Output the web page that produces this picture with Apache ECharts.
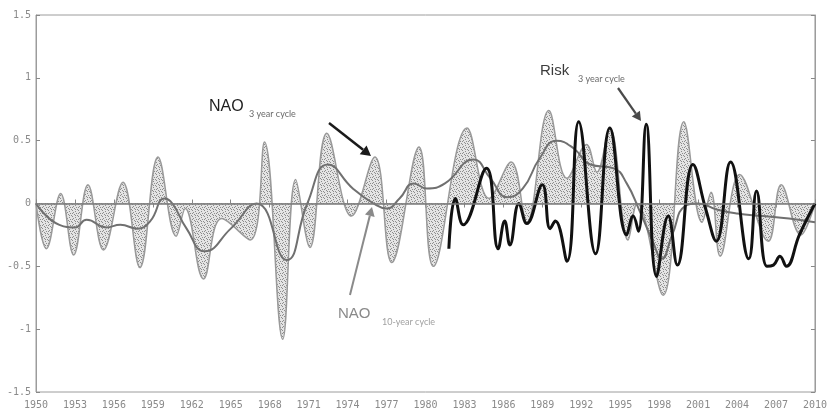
<!DOCTYPE html>
<html><head><meta charset="utf-8">
<script src="https://cdn.jsdelivr.net/npm/echarts@6/dist/echarts.min.js"></script>
<style>html,body{margin:0;padding:0;background:#fff}#c{width:830px;height:416px}</style>
</head><body><div id="c"></div>
<script>
// Years on the x axis (ticks every 3 years)
const xMin = 1950, xMax = 2010, xStep = 3;
const yMin = -1.5, yMax = 1.5, yStep = 0.5;

// NAO 3-year cycle [year, value]
const nao3 = [
  [1950.0, 0.00], [1950.8, -0.36], [1951.9, 0.08], [1952.9, -0.41], [1954.0, 0.15],
  [1955.2, -0.37], [1956.7, 0.17], [1958.0, -0.51], [1959.4, 0.37], [1960.8, -0.26],
  [1961.5, -0.04], [1962.9, -0.60], [1964.3, -0.12], [1966.5, -0.29], [1967.6, 0.49],
  [1969.0, -1.08], [1970.0, 0.19], [1971.1, -0.35], [1972.4, 0.56], [1974.3, -0.10],
  [1976.1, 0.37], [1977.4, -0.47], [1979.5, 0.45], [1980.6, -0.50], [1983.2, 0.60],
  [1984.9, 0.04], [1986.6, 0.33], [1987.8, -0.15], [1989.5, 0.74], [1990.9, 0.20],
  [1992.4, 0.47], [1993.2, 0.25], [1994.2, 0.60], [1995.6, -0.29], [1996.3, 0.00],
  [1998.3, -0.73], [1999.9, 0.65], [2001.3, -0.15], [2002.0, 0.09], [2002.7, -0.42],
  [2004.2, 0.23], [2006.4, -0.30], [2007.4, 0.15], [2008.9, -0.25], [2010.0, 0.00]
];

// NAO 10-year cycle [year, value]
const nao10 = [
  [1950.0, 0.00], [1951.8, -0.17], [1953.0, -0.19], [1953.9, -0.13], [1955.4, -0.19],
  [1956.5, -0.17], [1957.8, -0.20], [1958.8, -0.14], [1959.9, 0.04], [1960.5, 0.00],
  [1961.6, -0.20], [1963.0, -0.38], [1965.0, -0.20], [1967.0, 0.00], [1969.3, -0.45],
  [1970.9, 0.00], [1972.5, 0.31], [1974.4, 0.12], [1976.0, 0.00], [1977.0, -0.04],
  [1978.0, 0.04], [1979.1, 0.16], [1980.1, 0.12], [1981.5, 0.16], [1983.7, 0.35],
  [1985.0, 0.20], [1986.3, 0.05], [1987.5, 0.12], [1988.8, 0.36], [1990.1, 0.50],
  [1991.4, 0.44], [1992.7, 0.31], [1994.5, 0.28], [1995.5, 0.16], [1996.5, -0.06],
  [1997.5, -0.30], [1998.2, -0.44], [1999.0, -0.25], [2000.0, -0.02], [2001.0, 0.00],
  [2002.5, -0.05], [2004.0, -0.08], [2006.0, -0.10], [2008.0, -0.12], [2010.0, -0.15]
];

// Risk 3-year cycle [year, value]
const risk3 = [
  [1981.8, -0.36], [1982.3, 0.04], [1982.9, -0.17], [1984.7, 0.28], [1985.6, -0.36],
  [1986.1, -0.14], [1986.5, -0.33], [1987.2, 0.00], [1987.8, -0.16], [1989.0, 0.15],
  [1989.6, -0.20], [1990.0, -0.14], [1990.9, -0.46], [1991.8, 0.65], [1993.1, -0.40],
  [1994.2, 0.60], [1995.5, -0.25], [1996.0, -0.10], [1996.4, -0.22], [1997.0, 0.63],
  [1997.8, -0.58], [1998.7, -0.10], [1999.4, -0.49], [2000.6, 0.31], [2001.6, -0.05],
  [2002.4, -0.30], [2003.5, 0.33], [2004.9, -0.44], [2005.5, 0.10], [2006.3, -0.50],
  [2006.8, -0.49], [2007.3, -0.42], [2007.8, -0.50], [2008.8, -0.25], [2010.0, 0.00]
];

// stipple texture for the NAO 3-year fill
function stipple() {
  const c = document.createElement('canvas');
  c.width = 6; c.height = 6;
  const g = c.getContext('2d');
  g.fillStyle = '#e4e4e4'; g.fillRect(0, 0, 6, 6);
  g.fillStyle = '#8c8c8c';
  [[0,0],[3,1],[1,2],[4,3],[2,4],[5,5],[0,3],[3,5]].forEach(p => g.fillRect(p[0], p[1], 1, 1));
  return c;
}

const chart = echarts.init(document.getElementById('c'), null, {renderer: 'canvas'});

function arrow(x1, y1, x2, y2, color, w, head) {
  const a = Math.atan2(y2 - y1, x2 - x1);
  const hl = head, hw = head * 0.55;
  const bx = x2 - hl * Math.cos(a), by = y2 - hl * Math.sin(a);
  const px = -Math.sin(a) * hw, py = Math.cos(a) * hw;
  return [
    {type: 'line', shape: {x1: x1, y1: y1, x2: bx, y2: by}, style: {stroke: color, lineWidth: w}, z: 100},
    {type: 'polygon', shape: {points: [[x2, y2], [bx + px, by + py], [bx - px, by - py]]}, style: {fill: color}, z: 100}
  ];
}

const axisFont = {color: '#8a8a8a', fontSize: 10, fontFamily: 'DejaVu Sans Mono'};
const frameColor = '#9c9c9c';

const option = {
  animation: false,
  backgroundColor: '#fff',
  grid: {left: 36, right: 15, top: 15, bottom: 24, show: true, borderColor: frameColor, borderWidth: 1},
  xAxis: [{
    type: 'value', min: xMin, max: xMax, interval: xStep,
    axisLine: {show: true, lineStyle: {color: frameColor}},
    axisTick: {show: true, inside: true, length: 4, lineStyle: {color: '#888'}},
    axisLabel: Object.assign({margin: 8, formatter: v => String(v)}, axisFont),
    splitLine: {show: false}
  }, {
    type: 'value', min: xMin, max: xMax, interval: xStep, position: 'top',
    axisLine: {show: true, lineStyle: {color: frameColor}},
    axisTick: {show: true, inside: true, length: 4, lineStyle: {color: '#888'}},
    axisLabel: {show: false}, splitLine: {show: false}
  }],
  yAxis: [{
    type: 'value', min: yMin, max: yMax, interval: yStep,
    axisLine: {show: true, lineStyle: {color: frameColor}},
    axisTick: {show: true, inside: true, length: 4, lineStyle: {color: '#888'}},
    axisLabel: Object.assign({margin: 5, formatter: v => String(v)}, axisFont),
    splitLine: {show: false}
  }, {
    type: 'value', min: yMin, max: yMax, interval: yStep, position: 'right',
    axisLine: {show: true, lineStyle: {color: frameColor}},
    axisTick: {show: true, inside: true, length: 4, lineStyle: {color: '#888'}},
    axisLabel: {show: false}, splitLine: {show: false}
  }],
  series: [{
    name: 'NAO 3 year cycle', type: 'line', data: nao3, smooth: 0.4, symbol: 'none',
    lineStyle: {color: '#9a9a9a', width: 1.5},
    areaStyle: {color: {image: stipple(), repeat: 'repeat'}, origin: 0, opacity: 1},
    markLine: {silent: true, symbol: 'none', label: {show: false},
      lineStyle: {color: '#7a7a7a', width: 1.5, type: 'solid'}, data: [{yAxis: 0}]},
    z: 2
  }, {
    name: 'NAO 10 year cycle', type: 'line', data: nao10, smooth: 0.5, symbol: 'none',
    lineStyle: {color: '#707070', width: 2}, z: 3
  }, {
    name: 'Risk 3 year cycle', type: 'line', data: risk3, smooth: 0.45, symbol: 'none',
    lineStyle: {color: '#111', width: 3}, z: 4
  }],
  graphic: [
    {type: 'text', left: 209, top: 99, style: {text: 'NAO', fontSize: 16, fill: '#1e1e1e', fontFamily: 'Liberation Sans'}},
    {type: 'text', left: 249, top: 110, style: {text: '3 year cycle', fontSize: 9, fill: '#6a6a6a', fontFamily: 'Lato'}},
    {type: 'text', left: 540, top: 63, style: {text: 'Risk', fontSize: 15, fill: '#3c3c3c', fontFamily: 'Liberation Sans'}},
    {type: 'text', left: 578, top: 75, style: {text: '3 year cycle', fontSize: 9, fill: '#6a6a6a', fontFamily: 'Lato'}},
    {type: 'text', left: 338, top: 306, style: {text: 'NAO', fontSize: 15, fill: '#8a8a8a', fontFamily: 'Liberation Sans'}},
    {type: 'text', left: 382, top: 318, style: {text: '10-year cycle', fontSize: 9, fill: '#a0a0a0', fontFamily: 'Lato'}}
  ]
  .concat(arrow(329, 123, 371, 156, '#1a1a1a', 2.5, 10))
  .concat(arrow(618, 88, 641, 121, '#4a4a4a', 2.2, 9))
  .concat(arrow(350, 295, 372, 207, '#8a8a8a', 2, 9))
};
chart.setOption(option);
</script>
</body></html>
